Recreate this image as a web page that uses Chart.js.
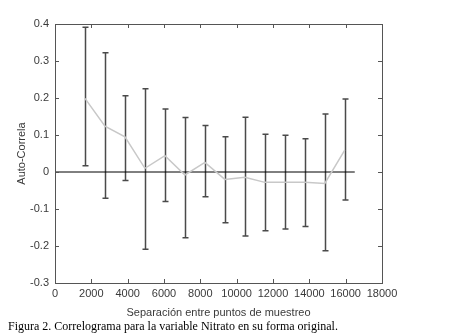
<!DOCTYPE html>
<html>
<head>
<meta charset="utf-8">
<script src="https://cdn.jsdelivr.net/npm/chart.js@4"></script>
<style>
  html, body { margin: 0; padding: 0; background: #fff; }
  #wrap { position: relative; width: 461px; height: 336px; }
  #caption {
    position: absolute; left: 8px; top: 319px;
    font-family: "Liberation Serif", "Times New Roman", serif;
    font-size: 12px; color: #000; white-space: nowrap;
  }
</style>
</head>
<body>
<div id="wrap">
  <canvas id="grafico" width="461" height="336"></canvas>
  <div id="caption">Figura 2. Correlograma para la variable Nitrato en su forma original.</div>
</div>
<script>
// separación (lag) y autocorrelación
const separacion = [1650, 2750, 3850, 4950, 6050, 7150, 8250, 9350, 10450, 11550, 12650, 13750, 14850, 15950];
const autoCorr   = [0.199, 0.124, 0.095, 0.010, 0.044, -0.008, 0.026, -0.020, -0.014, -0.028, -0.028, -0.028, -0.031, 0.059];
const limSup     = [0.391, 0.322, 0.206, 0.225, 0.170, 0.147, 0.126, 0.095, 0.148, 0.102, 0.099, 0.090, 0.157, 0.197];
const limInf     = [0.017, -0.071, -0.023, -0.209, -0.080, -0.178, -0.067, -0.137, -0.173, -0.159, -0.154, -0.147, -0.213, -0.076];
const lineaCero  = [0, 16500];
const xTicks = [0, 2000, 4000, 6000, 8000, 10000, 12000, 14000, 16000, 18000];
const yTicks = [-0.3, -0.2, -0.1, 0, 0.1, 0.2, 0.3, 0.4];

const colorEje = '#555555';
const colorTexto = '#3a3a3a';

// barras de error + marco con marcas hacia dentro (estilo matlab)
const barrasError = {
    id: 'barrasError',
    beforeDatasetsDraw(chart) {
        const { ctx, scales: { x, y } } = chart;
        ctx.save();
        ctx.strokeStyle = '#4a4a4a';
        ctx.lineWidth = 1.5;
        separacion.forEach((s, i) => {
            const px = Math.round(x.getPixelForValue(s)) + 0.5;
            const top = y.getPixelForValue(limSup[i]);
            const bot = y.getPixelForValue(limInf[i]);
            ctx.beginPath();
            ctx.moveTo(px, top); ctx.lineTo(px, bot);
            ctx.moveTo(px - 3, top); ctx.lineTo(px + 3, top);
            ctx.moveTo(px - 3, bot); ctx.lineTo(px + 3, bot);
            ctx.stroke();
        });
        ctx.restore();
    },
    afterDraw(chart) {
        const { ctx, chartArea: a, scales: { x, y } } = chart;
        ctx.save();
        ctx.strokeStyle = colorEje;
        ctx.lineWidth = 1;
        ctx.strokeRect(Math.round(a.left) + 0.5, Math.round(a.top) + 0.5,
                       Math.round(a.right - a.left), Math.round(a.bottom - a.top));
        ctx.beginPath();
        xTicks.forEach(v => {
            const px = Math.round(x.getPixelForValue(v)) + 0.5;
            ctx.moveTo(px, a.bottom); ctx.lineTo(px, a.bottom - 4);
            ctx.moveTo(px, a.top); ctx.lineTo(px, a.top + 4);
        });
        yTicks.forEach(v => {
            const py = Math.round(y.getPixelForValue(v)) + 0.5;
            ctx.moveTo(a.left, py); ctx.lineTo(a.left + 4, py);
            ctx.moveTo(a.right, py); ctx.lineTo(a.right - 4, py);
        });
        ctx.stroke();
        ctx.restore();
    }
};

const ctx = document.getElementById('grafico').getContext('2d');
new Chart(ctx, {
    type: 'line',
    data: {
        datasets: [{
            data: separacion.map((s, i) => ({ x: s, y: autoCorr[i] })),
            borderColor: '#c8c8c8',
            borderWidth: 1.5,
            pointRadius: 0,
            tension: 0
        }, {
            data: lineaCero.map(s => ({ x: s, y: 0 })),
            borderColor: '#000000',
            borderWidth: 1,
            pointRadius: 0
        }]
    },
    options: {
        responsive: false,
        animation: false,
        layout: { padding: { left: 0, top: 24, right: 79, bottom: 16 } },
        plugins: {
            legend: { display: false },
            tooltip: { enabled: false }
        },
        scales: {
            x: {
                type: 'linear',
                min: 0, max: 18000,
                afterBuildTicks: s => { s.ticks = xTicks.map(v => ({ value: v })); },
                afterFit: s => { s.height = 37; },
                grid: { display: false, drawTicks: false },
                border: { display: false },
                ticks: {
                    padding: 4,
                    maxRotation: 0,
                    color: colorTexto,
                    font: { family: 'Arial, "Liberation Sans", sans-serif', size: 11 },
                    callback: v => String(v)
                },
                title: {
                    display: true,
                    text: 'Separación entre puntos de muestreo',
                    color: colorTexto,
                    font: { family: 'Arial, "Liberation Sans", sans-serif', size: 11 },
                    padding: { top: 0, bottom: 0 }
                }
            },
            y: {
                min: -0.3, max: 0.4,
                afterBuildTicks: s => { s.ticks = yTicks.map(v => ({ value: v })); },
                afterFit: s => { s.width = 55; },
                grid: { display: false, drawTicks: false },
                border: { display: false },
                ticks: {
                    padding: 6,
                    color: colorTexto,
                    font: { family: 'Arial, "Liberation Sans", sans-serif', size: 11 },
                    callback: v => String(Math.round(v * 10) / 10)
                },
                title: {
                    display: true,
                    text: 'Auto-Correla',
                    color: colorTexto,
                    font: { family: 'Arial, "Liberation Sans", sans-serif', size: 11 },
                    padding: { top: 15, bottom: 0 }
                }
            }
        }
    },
    plugins: [barrasError]
});
</script>
</body>
</html>
